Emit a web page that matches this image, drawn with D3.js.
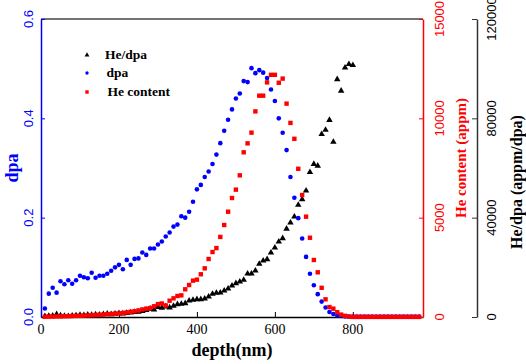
<!DOCTYPE html>
<html>
<head>
<meta charset="utf-8">
<script src="https://cdn.jsdelivr.net/npm/d3@7"></script>
<style>
  body { margin: 0; background: #fff; }
  svg { display: block; }
  .tick-label { font-family: "Liberation Sans", Arial, sans-serif; font-size: 13px; }
  .x-label { font-family: "Liberation Serif", "Times New Roman", serif; font-size: 14px; }
  .title { font-family: "Liberation Serif", "Times New Roman", serif; font-weight: bold; }
</style>
</head>
<body>
<div id="chart"></div>
<script>
// depth (nm) for every sample
const depth = [10, 20, 30, 40, 50, 60, 70, 80, 90, 100, 110, 120, 130, 140, 150, 160, 170, 180, 190, 200,
  210, 220, 230, 240, 250, 260, 270, 280, 290, 300, 310, 320, 330, 340, 350, 360, 370, 380, 390, 400,
  410, 420, 430, 440, 450, 460, 470, 480, 490, 500, 510, 520, 530, 540, 550, 560, 570, 580, 590, 600,
  610, 620, 630, 640, 650, 660, 670, 680, 690, 700, 710, 720, 730, 740, 750, 760, 770, 780, 790, 800,
  810, 820, 830, 840, 850, 860, 870, 880, 890, 900, 910, 920, 930, 940, 950, 960, 970];

// dpa (left axis)
const dpa = [0.017, 0.047, 0.059, 0.049, 0.072, 0.066, 0.074, 0.067, 0.074, 0.083, 0.080, 0.078, 0.089, 0.079, 0.083, 0.083, 0.087, 0.093, 0.100, 0.105,
  0.096, 0.115, 0.105, 0.117, 0.118, 0.130, 0.125, 0.138, 0.138, 0.146, 0.152, 0.162, 0.170, 0.182, 0.186, 0.203, 0.200, 0.212, 0.232, 0.257,
  0.266, 0.282, 0.293, 0.308, 0.327, 0.350, 0.375, 0.397, 0.418, 0.440, 0.450, 0.475, 0.473, 0.501, 0.491, 0.497, 0.492, 0.481, 0.458, 0.435,
  0.400, 0.371, 0.336, 0.282, 0.240, 0.199, 0.158, 0.121, 0.087, 0.064, 0.046, 0.031, 0.019, 0.010, 0.006, 0.003, 0.002, 0.001, 0.001, 0.001,
  0.001, 0.001, 0.001, 0.001, 0.001, 0.001, 0.001, 0.001, 0.001, 0.001, 0.001, 0.001, 0.001, 0.001, 0.001, 0.001, 0.001];

// He content in appm (red axis)
const heContent = [10, 20, 20, 30, 30, 40, 40, 50, 60, 60, 70, 80, 90, 100, 110, 120, 140, 150, 170, 180,
  200, 230, 260, 290, 330, 380, 420, 450, 540, 650, 680, 580, 820, 940, 1057, 1090, 1394, 1610, 1830, 1880,
  2150, 2450, 2920, 3270, 3470, 4030, 4630, 5300, 5990, 6410, 7130, 8290, 8740, 9280, 10350, 11140, 11140, 11810, 12190, 12190,
  11790, 12000, 10740, 9770, 8970, 7460, 6140, 5050, 3990, 2870, 2250, 1470, 890, 500, 420, 240, 120, 60, 20, 5,
  5, 5, 5, 5, 5, 5, 5, 5, 5, 5, 5, 5, 5, 5, 5, 5, 5];

// He/dpa in appm/dpa (black axis), measured up to 800 nm
const heDpa = [300, 400, 500, 1100, 600, 400, 300, 500, 600, 800, 700, 900, 800, 1000, 900, 1100, 1300, 1100, 1300, 1500,
  1400, 1600, 1800, 2000, 2100, 2400, 2800, 3300, 3000, 4000, 3700, 4200, 3800, 4430, 5110, 5230, 5500, 6560, 6850, 7110,
  7110, 7380, 8180, 9260, 9660, 9800, 10600, 11400, 12600, 13570, 14230, 14900, 17440, 17440, 18640, 21340, 22670, 23230, 25900, 27900,
  30300, 31700, 35500, 38000, 40400, 45100, 47400, 50900, 58300, 61600, 60900, 73600, 75300, 79300, 70500, 95700, 91100, 100400, 101800, 101400];

// tick values
const xTicks = [0, 200, 400, 600, 800];
const dpaTicks = [0.0, 0.2, 0.4, 0.6];
const heTicks = [0, 5000, 10000, 15000];
const heDpaTicks = [0, 40000, 80000, 120000];

const legendItems = ['He/dpa', 'dpa', 'He content'];

const config = {
  width: 526,
  height: 364,
  margin: { top: 19, left: 41, right: 103, bottom: 47 }
};
const w = config.width - config.margin.left - config.margin.right;   // 382
const h = config.height - config.margin.top - config.margin.bottom;  // 298

const BLUE = '#0000ff', RED = '#ff0000', BLACK = '#000000';

const svg = d3.select('#chart').append('svg')
  .attr('width', config.width)
  .attr('height', config.height);

const g = svg.append('g')
  .attr('transform', `translate(${config.margin.left},${config.margin.top})`);

// Scales
const x = d3.scaleLinear().domain([0, 980]).range([0, w]);
const yDpa = d3.scaleLinear().domain([0, 0.6]).range([h, 0]);
const yHe = d3.scaleLinear().domain([0, 15000]).range([h, 0]);
const yHeDpa = d3.scaleLinear().domain([0, 120000]).range([h, 0]);

// top frame line
g.append('line')
  .attr('x1', 0).attr('x2', w).attr('y1', 0).attr('y2', 0)
  .attr('stroke', '#444').attr('stroke-width', 1.5);

// Helper to draw an axis with major + minor ticks and no labels
function drawAxis(axisFn, scale, major, minor, majorLen, minorLen, color, transform) {
  const ag = g.append('g').attr('transform', transform || null);
  ag.call(axisFn(scale).tickValues(minor).tickSize(minorLen).tickSizeOuter(0).tickFormat(''));
  ag.call(axisFn(scale).tickValues(major).tickSize(majorLen).tickSizeOuter(0).tickFormat(''));
  ag.selectAll('path').attr('stroke', color).attr('stroke-width', 1.5);
  ag.selectAll('line').attr('stroke', color).attr('stroke-width', 1);
  return ag;
}

// bottom axis, ticks pointing inward
drawAxis(d3.axisBottom, x, xTicks, [100, 300, 500, 700, 900], -5, -3, BLACK, `translate(0,${h})`);
// left dpa axis
drawAxis(d3.axisLeft, yDpa, dpaTicks, [0.1, 0.3, 0.5], -4, -3, BLUE);
// red He content axis
drawAxis(d3.axisRight, yHe, heTicks, [2500, 7500, 12500], -4, -3, RED, `translate(${w},0)`);
// black He/dpa axis
drawAxis(d3.axisRight, yHeDpa, heDpaTicks, [20000, 60000, 100000], -5, -4, '#333', `translate(${w + 54},0)`);

// x tick labels
g.selectAll('.x-label').data(xTicks).join('text')
  .attr('class', 'x-label')
  .attr('x', d => x(d))
  .attr('y', h + 17)
  .attr('text-anchor', 'middle')
  .text(d => d);

// rotated y tick labels
function yLabels(ticks, scale, xPos, color, fmt) {
  g.selectAll(null).data(ticks).join('text')
    .attr('class', 'tick-label')
    .attr('transform', d => `translate(${xPos},${scale(d)}) rotate(-90)`)
    .attr('text-anchor', 'middle')
    .attr('fill', color)
    .text(fmt);
}
yLabels(dpaTicks, yDpa, -8, BLUE, d => d3.format('.1f')(d));
yLabels(heTicks, yHe, w + 21, RED, d => d);
yLabels(heDpaTicks, yHeDpa, w + 73, BLACK, d => d);

// Axis titles
svg.append('text').attr('class', 'title')
  .attr('x', 232).attr('y', 356)
  .attr('text-anchor', 'middle')
  .attr('font-size', 18)
  .text('depth(nm)');

svg.append('text').attr('class', 'title')
  .attr('transform', 'translate(18,168) rotate(-90)')
  .attr('text-anchor', 'middle')
  .attr('font-size', 18)
  .attr('fill', BLUE)
  .text('dpa');

svg.append('text').attr('class', 'title')
  .attr('transform', 'translate(466,158) rotate(-90)')
  .attr('text-anchor', 'middle')
  .attr('font-size', 15)
  .attr('fill', RED)
  .text('He content (appm)');

svg.append('text').attr('class', 'title')
  .attr('transform', 'translate(522,182) rotate(-90)')
  .attr('text-anchor', 'middle')
  .attr('font-size', 16)
  .attr('fill', BLACK)
  .text('He/dpa (appm/dpa)');

// Marks
const tri = d3.symbol().type(d3.symbolTriangle).size(18);
const triSmall = d3.symbol().type(d3.symbolTriangle).size(10);

g.append('g').selectAll('path')
  .data(heDpa)
  .join('path')
  .attr('d', tri)
  .attr('transform', (d, i) => `translate(${x(depth[i])},${yHeDpa(d)})`)
  .attr('fill', BLACK);

g.append('g').selectAll('circle')
  .data(dpa)
  .join('circle')
  .attr('cx', (d, i) => x(depth[i]))
  .attr('cy', d => yDpa(d))
  .attr('r', 2.3)
  .attr('fill', BLUE);

g.append('g').selectAll('rect')
  .data(heContent)
  .join('rect')
  .attr('x', (d, i) => x(depth[i]) - 2.2)
  .attr('y', d => yHe(d) - 2.2)
  .attr('width', 4.4)
  .attr('height', 4.4)
  .attr('fill', RED);

// Legend
const legend = svg.append('g');
const ly = [55, 73, 92];
legend.append('path').attr('d', triSmall).attr('transform', `translate(87,${ly[0]})`).attr('fill', BLACK);
legend.append('circle').attr('cx', 87).attr('cy', ly[1]).attr('r', 1.7).attr('fill', BLUE);
legend.append('rect').attr('x', 85.3).attr('y', ly[2] - 1.7).attr('width', 3.4).attr('height', 3.4).attr('fill', RED);
const lx = [105, 106.5, 107.5];
legend.selectAll('text').data(legendItems).join('text')
  .attr('class', 'title')
  .attr('font-size', 13.5)
  .attr('x', (d, i) => lx[i])
  .attr('y', (d, i) => ly[i] + 4)
  .text(d => d);
</script>
</body>
</html>
